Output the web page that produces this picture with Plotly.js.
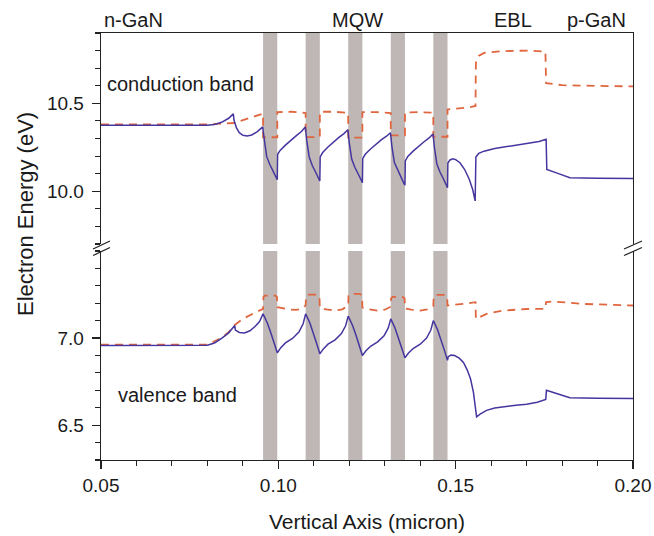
<!DOCTYPE html>
<html>
<head>
<meta charset="utf-8">
<script src="https://cdn.plot.ly/plotly-3.0.1.min.js"></script>
<style>
html,body{margin:0;padding:0;background:#fff;}
#chart{width:654px;height:536px;}
</style>
</head>
<body>
<div id="chart"></div>
<script>
// ---------- data ----------
// quantum-well (MQW) positions, micron
var wellStart = [0.0957, 0.1077, 0.1197, 0.1317, 0.1437];
var wellEnd   = [0.0997, 0.1117, 0.1237, 0.1357, 0.1477];

// conduction band, solid line
var cbSolidX = [0.050,0.060,0.070,0.080,0.082,0.084,0.086,0.0873,0.0875,0.0882,0.0890,0.0900,0.0912,0.0925,0.0940,0.0956,
  0.0958,0.0960,0.0967,0.0976,0.0986,0.0994,0.0997,0.0998,
  0.1005,0.1020,0.1035,0.1050,0.1065,0.1076,
  0.1078,0.1080,0.1087,0.1096,0.1106,0.1114,0.1117,0.1118,
  0.1125,0.1140,0.1155,0.1170,0.1185,0.1196,
  0.1198,0.1200,0.1207,0.1216,0.1226,0.1234,0.1237,0.1238,
  0.1245,0.1260,0.1275,0.1290,0.1305,0.1316,
  0.1318,0.1320,0.1327,0.1336,0.1346,0.1354,0.1357,0.1358,
  0.1365,0.1380,0.1395,0.1410,0.1425,0.1436,
  0.1438,0.1440,0.1447,0.1456,0.1466,0.1474,0.1477,0.1478,
  0.1484,0.1492,0.1500,0.1512,0.1525,0.1538,0.1548,0.1555,0.1557,0.1565,0.1580,0.1610,0.1650,0.1700,0.1735,0.1755,0.1757,0.1790,0.1822,0.1900,0.2000];
var cbSolidE = [10.375,10.375,10.375,10.376,10.380,10.392,10.415,10.440,10.405,10.360,10.333,10.318,10.314,10.320,10.338,10.366,
  10.330,10.292,10.198,10.152,10.114,10.075,10.066,10.210,
  10.232,10.262,10.290,10.315,10.340,10.366,
  10.330,10.290,10.195,10.145,10.105,10.068,10.058,10.195,
  10.220,10.252,10.280,10.305,10.328,10.350,
  10.315,10.275,10.182,10.135,10.095,10.060,10.049,10.185,
  10.210,10.240,10.268,10.292,10.313,10.333,
  10.298,10.258,10.165,10.120,10.080,10.045,10.034,10.172,
  10.198,10.228,10.256,10.280,10.303,10.326,
  10.290,10.250,10.155,10.108,10.068,10.032,10.020,10.160,
  10.178,10.185,10.180,10.162,10.125,10.070,10.010,9.945,10.195,10.215,10.228,10.243,10.256,10.270,10.283,10.296,10.124,10.100,10.077,10.074,10.073];

// conduction band, dashed line
var cbDashX = [0.050,0.080,0.0876,0.0900,0.0930,0.0957,0.0957,0.0997,0.0997,0.1037,0.1077,0.1077,0.1117,0.1117,0.1157,0.1197,0.1197,0.1237,0.1237,0.1277,0.1317,0.1317,0.1357,0.1357,0.1397,0.1437,0.1437,0.1477,0.1477,0.1510,0.1540,0.1556,0.1557,0.1565,0.1580,0.1630,0.1700,0.1753,0.1755,0.1800,0.1900,0.2000];
var cbDashE = [10.380,10.380,10.388,10.405,10.425,10.442,10.307,10.307,10.450,10.452,10.445,10.308,10.308,10.452,10.452,10.446,10.305,10.305,10.450,10.450,10.445,10.318,10.318,10.448,10.450,10.447,10.310,10.310,10.465,10.471,10.478,10.485,10.730,10.770,10.787,10.797,10.800,10.795,10.615,10.603,10.598,10.596];

// valence band, solid line
var vbSolidX = [0.050,0.060,0.070,0.080,0.0820,0.0840,0.0860,0.0877,0.0879,0.0890,0.0905,0.0920,0.0935,0.0947,0.0957,
  0.0969,0.0979,0.0989,0.0997,
  0.1007,0.1020,0.1040,0.1058,0.1070,0.1077,
  0.1089,0.1099,0.1109,0.1117,
  0.1127,0.1140,0.1160,0.1178,0.1190,0.1197,
  0.1209,0.1219,0.1229,0.1237,
  0.1247,0.1260,0.1280,0.1298,0.1310,0.1317,
  0.1329,0.1339,0.1349,0.1357,
  0.1367,0.1380,0.1400,0.1418,0.1430,0.1437,
  0.1449,0.1459,0.1469,0.1477,
  0.1479,0.1487,0.1497,0.1510,0.1522,0.1533,0.1542,0.1550,0.1555,0.1559,0.1570,0.1587,0.1610,0.1634,0.1670,0.1700,0.1730,0.1754,0.1756,0.1780,0.1822,0.1900,0.2000];
var vbSolidE = [6.958,6.958,6.958,6.959,6.972,6.998,7.030,7.072,7.046,7.032,7.029,7.042,7.068,7.095,7.139,
  7.087,7.029,6.964,6.916,
  6.945,6.972,6.998,7.035,7.082,7.139,
  7.087,7.029,6.963,6.910,
  6.938,6.965,6.990,7.026,7.072,7.126,
  7.074,7.016,6.951,6.900,
  6.927,6.953,6.978,7.013,7.058,7.110,
  7.058,7.001,6.937,6.887,
  6.914,6.940,6.965,7.000,7.046,7.100,
  7.048,6.990,6.925,6.872,
  6.893,6.902,6.900,6.885,6.860,6.815,6.765,6.690,6.620,6.548,6.565,6.585,6.598,6.606,6.615,6.620,6.632,6.648,6.700,6.685,6.658,6.655,6.653];

// valence band, dashed line
var vbDashX = [0.050,0.080,0.0840,0.0860,0.0877,0.0900,0.0930,0.0957,0.0958,0.0962,0.0992,0.0996,0.0997,0.1010,0.1030,0.1050,0.1065,0.1077,
  0.1078,0.1082,0.1110,0.1116,0.1117,0.1135,0.1160,0.1180,0.1197,
  0.1198,0.1202,0.1230,0.1236,0.1237,0.1255,0.1280,0.1300,0.1317,
  0.1318,0.1322,0.1350,0.1356,0.1357,0.1375,0.1400,0.1420,0.1437,
  0.1438,0.1442,0.1470,0.1476,0.1477,0.1500,0.1530,0.1556,0.1557,0.1587,0.1634,0.1700,0.1753,0.1755,0.1775,0.1860,0.2000];
var vbDashE = [6.962,6.962,7.002,7.034,7.075,7.110,7.142,7.168,7.236,7.244,7.244,7.236,7.177,7.172,7.164,7.162,7.168,7.187,
  7.240,7.250,7.250,7.240,7.172,7.165,7.158,7.165,7.185,
  7.245,7.254,7.254,7.242,7.175,7.165,7.158,7.163,7.180,
  7.228,7.236,7.236,7.228,7.170,7.163,7.158,7.165,7.182,
  7.240,7.248,7.248,7.240,7.187,7.190,7.198,7.206,7.110,7.139,7.158,7.167,7.168,7.206,7.210,7.196,7.187];

// tick values / labels
var xTickVals = [0.05, 0.10, 0.15, 0.20];
var xTickText = ["0.05", "0.10", "0.15", "0.20"];
var yLowTickVals = [6.5, 7.0];
var yLowTickText = ["6.5", "7.0"];
var yHighTickVals = [10.0, 10.5];
var yHighTickText = ["10.0", "10.5"];

// labels
var regionLabels = ["n-GaN", "MQW", "EBL", "p-GaN"];
var bandLabels = ["conduction band", "valence band"];
var xTitle = "Vertical Axis (micron)";
var yTitle = "Electron Energy (eV)";

// ---------- styles ----------
var FONT = "Liberation Sans, Arial, Helvetica, sans-serif";
var TXT = "#1a1a1a";
var SOLID = "#45369f";
var DASH = "#e0663f";
var BAR = "rgb(190,183,181)";
var AX = "#222222";

var traces = [
  {x: cbDashX, y: cbDashE, xaxis: "x2", yaxis: "y2", mode: "lines", line: {color: DASH, width: 1.8, dash: "8px,6px"}, hoverinfo: "skip"},
  {x: cbSolidX, y: cbSolidE, xaxis: "x2", yaxis: "y2", mode: "lines", line: {color: SOLID, width: 1.5}, hoverinfo: "skip"},
  {x: vbDashX, y: vbDashE, xaxis: "x", yaxis: "y", mode: "lines", line: {color: DASH, width: 1.8, dash: "8px,6px"}, hoverinfo: "skip"},
  {x: vbSolidX, y: vbSolidE, xaxis: "x", yaxis: "y", mode: "lines", line: {color: SOLID, width: 1.5}, hoverinfo: "skip"}
];

var shapes = [];
for (var i = 0; i < wellStart.length; i++) {
  shapes.push({type: "rect", xref: "x", yref: "y domain", x0: wellStart[i], x1: wellEnd[i], y0: 0, y1: 1,
    fillcolor: BAR, line: {width: 0}, layer: "below"});
  shapes.push({type: "rect", xref: "x2", yref: "y2 domain", x0: wellStart[i], x1: wellEnd[i], y0: 0, y1: 1,
    fillcolor: BAR, line: {width: 0}, layer: "below"});
}
// axis-break marks
var breakMarks = [
  [-0.0150, 0.4941, 0.0169, 0.5129], [-0.0150, 0.4789, 0.0169, 0.4977],
  [0.9831, 0.4941, 1.0169, 0.5129], [0.9831, 0.4789, 1.0169, 0.4977]
];
breakMarks.forEach(function (b) {
  shapes.push({type: "line", xref: "paper", yref: "paper", x0: b[0], y0: b[1], x1: b[2], y1: b[3],
    line: {color: AX, width: 1.3}});
});

var annFont = {family: FONT, size: 20, color: TXT};
var annotations = [
  {text: regionLabels[0], x: 0.062, y: 1.0304},
  {text: regionLabels[1], x: 0.483, y: 1.0304},
  {text: regionLabels[2], x: 0.7735, y: 1.0304},
  {text: regionLabels[3], x: 0.932, y: 1.0304},
  {text: bandLabels[0], x: 0.150, y: 0.8806},
  {text: bandLabels[1], x: 0.1447, y: 0.152}
].map(function (a) {
  return {text: a.text, x: a.x, y: a.y, xref: "paper", yref: "paper", showarrow: false,
    xanchor: "center", yanchor: "middle", font: annFont};
});
annotations.push({text: xTitle, x: 0.5, y: -0.143, xref: "paper", yref: "paper", showarrow: false,
  xanchor: "center", yanchor: "middle", font: {family: FONT, size: 21, color: TXT}});
annotations.push({text: yTitle, x: -0.1429, y: 0.576, xref: "paper", yref: "paper", showarrow: false,
  textangle: -90, xanchor: "center", yanchor: "middle", font: {family: FONT, size: 22, color: TXT}});

var tickFont = {family: FONT, size: 19, color: TXT};
var layout = {
  width: 654, height: 536,
  margin: {l: 101, r: 21, t: 33, b: 76, pad: 0},
  paper_bgcolor: "#ffffff", plot_bgcolor: "#ffffff",
  showlegend: false,
  font: {family: FONT, color: TXT},
  xaxis: {
    domain: [0, 1], anchor: "y", range: [0.05, 0.20],
    showgrid: false, zeroline: false, showline: true, linecolor: AX, linewidth: 1.3, mirror: false,
    tickmode: "array", tickvals: xTickVals, ticktext: xTickText,
    ticks: "outside", ticklen: 8, tickwidth: 1.3, tickcolor: AX, tickfont: tickFont, ticklabelstandoff: 0,
    minor: {dtick: 0.01, tick0: 0.05, ticks: "outside", ticklen: 5, tickwidth: 1.1, tickcolor: AX, showgrid: false}
  },
  xaxis2: {
    domain: [0, 1], anchor: "y2", matches: "x", range: [0.05, 0.20], side: "top",
    showgrid: false, zeroline: false, showline: true, linecolor: AX, linewidth: 1.3,
    showticklabels: false, ticks: ""
  },
  yaxis: {
    domain: [0, 0.4895], anchor: "x", range: [6.3, 7.5],
    showgrid: false, zeroline: false, showline: true, linecolor: AX, linewidth: 1.3, mirror: true,
    tickmode: "array", tickvals: yLowTickVals, ticktext: yLowTickText,
    ticks: "outside", ticklen: 8, tickwidth: 1.3, tickcolor: AX, tickfont: tickFont, ticklabelstandoff: 4,
    minor: {dtick: 0.1, tick0: 6.3, ticks: "outside", ticklen: 5, tickwidth: 1.1, tickcolor: AX, showgrid: false}
  },
  yaxis2: {
    domain: [0.5059, 1], anchor: "x2", range: [9.7, 10.9],
    showgrid: false, zeroline: false, showline: true, linecolor: AX, linewidth: 1.3, mirror: true,
    tickmode: "array", tickvals: yHighTickVals, ticktext: yHighTickText,
    ticks: "outside", ticklen: 8, tickwidth: 1.3, tickcolor: AX, tickfont: tickFont, ticklabelstandoff: 4,
    minor: {dtick: 0.1, tick0: 9.7, ticks: "outside", ticklen: 5, tickwidth: 1.1, tickcolor: AX, showgrid: false}
  },
  shapes: shapes,
  annotations: annotations
};

Plotly.newPlot("chart", traces, layout, {staticPlot: true, displayModeBar: false});
</script>
</body>
</html>
